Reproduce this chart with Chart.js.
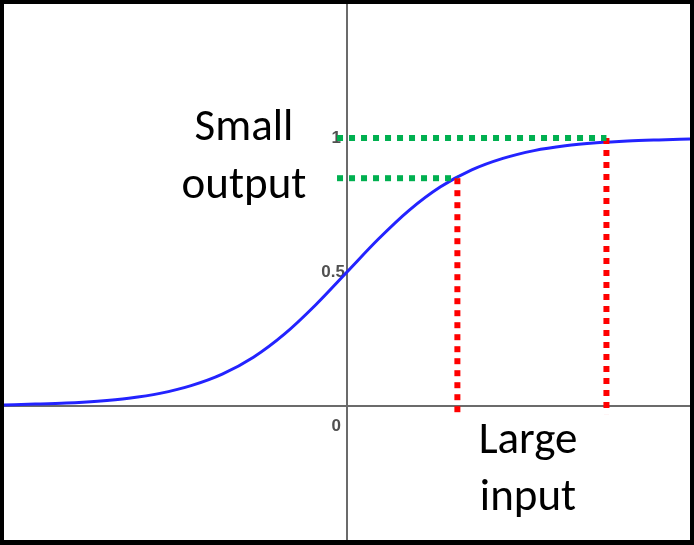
<!DOCTYPE html>
<html>
<head>
<meta charset="utf-8">
<script src="https://cdn.jsdelivr.net/npm/chart.js@4/dist/chart.umd.min.js"></script>
<style>
  html, body { margin: 0; padding: 0; background: #000; }
  #wrap { position: absolute; left: 4px; top: 4px; width: 686px; height: 536px; background: #fff; }
</style>
</head>
<body>
<div id="wrap"><canvas id="chart"></canvas></div>
<script>
// sigmoid curve
const xs = [-5.5, -5, -4.5, -4, -3.5, -3, -2.5, -2, -1.5, -1, -0.5, 0, 0.5, 1, 1.5, 2, 2.5, 3, 3.5, 4, 4.5, 5, 5.5];
const ys = [0.004, 0.007, 0.011, 0.018, 0.029, 0.047, 0.076, 0.119, 0.182, 0.269, 0.378, 0.5, 0.622, 0.731, 0.818, 0.881, 0.924, 0.953, 0.971, 0.982, 0.989, 0.993, 0.996];

// marked inputs and their outputs
const markX = [1.77, 4.16];
const markY = [0.85, 0.99];
const yTickLabels = ['0', '0.5', '1'];

const curve = xs.map((x, i) => ({ x: x, y: ys[i] }));

const dotted = (color, pts) => ({
    data: pts,
    borderColor: color,
    borderWidth: 6,
    borderDash: [6, 6],
    borderCapStyle: 'butt',
    pointRadius: 0,
    tension: 0,
});

const overlay = {
    id: 'overlay',
    beforeDatasetsDraw(chart) {
        const { ctx, scales: { x, y }, chartArea: a } = chart;
        ctx.save();
        ctx.strokeStyle = '#6b6b6b';
        ctx.lineWidth = 2;
        ctx.beginPath();
        ctx.moveTo(x.getPixelForValue(0), a.top);
        ctx.lineTo(x.getPixelForValue(0), a.bottom);
        ctx.moveTo(a.left, y.getPixelForValue(0));
        ctx.lineTo(a.right, y.getPixelForValue(0));
        ctx.stroke();
        ctx.fillStyle = '#505050';
        ctx.font = 'bold 17px "Liberation Sans", Arial';
        ctx.textAlign = 'right';
        ctx.textBaseline = 'middle';
        const x0 = x.getPixelForValue(0);
        ctx.fillText(yTickLabels[2], x0 - 6, y.getPixelForValue(1));
        ctx.fillText(yTickLabels[1], x0 - 2, y.getPixelForValue(0.5));
        ctx.fillText(yTickLabels[0], x0 - 6, y.getPixelForValue(0) + 20);
        ctx.restore();
    },
    afterDatasetsDraw(chart) {
        const { ctx } = chart;
        ctx.save();
        ctx.fillStyle = '#000';
        ctx.font = '45px Carlito, Lato, sans-serif';
        ctx.textAlign = 'center';
        ctx.textBaseline = 'middle';
        ctx.fillText('Small', 240, 125);
        ctx.fillText('output', 240, 183);
        ctx.fillText('Large', 524, 438);
        ctx.fillText('input', 524, 495);
        ctx.restore();
    },
};

new Chart(document.querySelector('#chart'), {
    type: 'line',
    data: {
        datasets: [
            dotted('#00b050', [{ x: -0.16, y: markY[0] }, { x: markX[0], y: markY[0] }]),
            dotted('#00b050', [{ x: -0.16, y: 1.0 }, { x: markX[1], y: 1.0 }]),
            dotted('#ff0000', [{ x: markX[0], y: markY[0] }, { x: markX[0], y: -0.03 }]),
            dotted('#ff0000', [{ x: markX[1], y: 1.0 }, { x: markX[1], y: -0.03 }]),
            {
                data: curve,
                borderColor: '#2323ff',
                borderWidth: 3,
                pointRadius: 0,
                cubicInterpolationMode: 'monotone',
            },
        ],
    },
    options: {
        responsive: true,
        maintainAspectRatio: false,
        animation: false,
        layout: { padding: 0 },
        plugins: { legend: { display: false }, tooltip: { enabled: false } },
        scales: {
            x: { type: 'linear', min: -5.5, max: 5.5, display: false },
            y: { min: -0.5, max: 1.5, display: false },
        },
    },
    plugins: [overlay],
});
</script>
</body>
</html>
